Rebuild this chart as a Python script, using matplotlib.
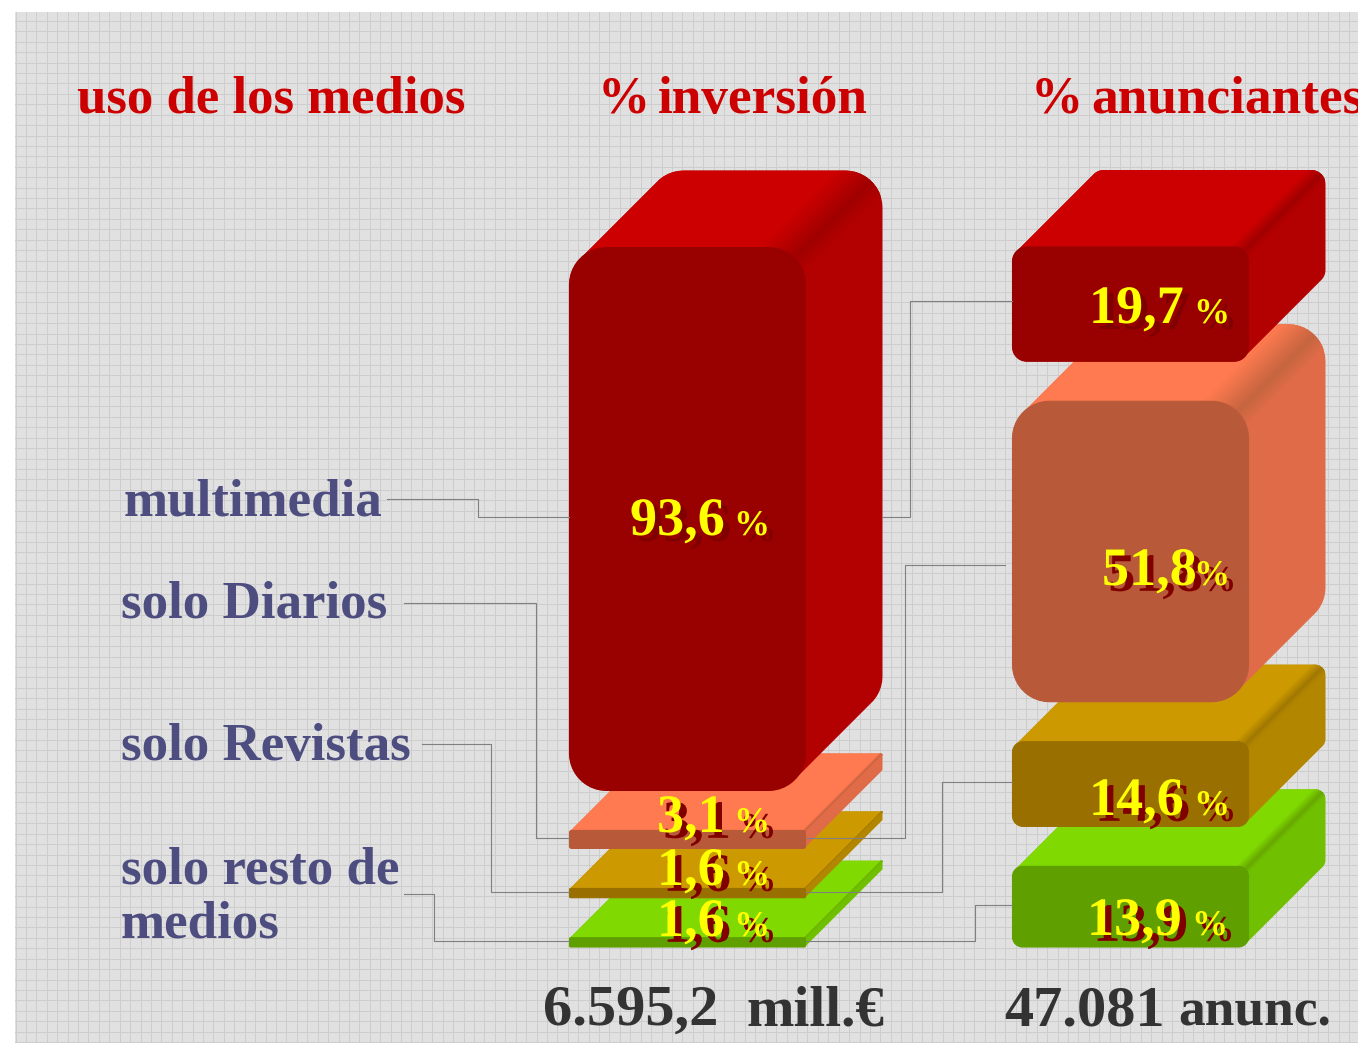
import matplotlib
matplotlib.use("Agg")
import matplotlib.pyplot as plt
import matplotlib.patheffects as pe
from matplotlib.colors import to_rgb
from matplotlib.patches import Polygon
import numpy as np

# data
categories = ["multimedia", "solo Diarios", "solo Revistas", "solo resto de\nmedios"]
inversion = [93.6, 3.1, 1.6, 1.6]
anunciantes = [19.7, 51.8, 14.6, 13.9]
headers = ["uso de los medios", "%", "inversión", "%", "anunciantes"]
total_inversion = "6.595,2"
total_anunciantes = "47.081"

# top, side, front colours of each category
top_colors = ["#cc0000", "#ff7a50", "#cc9900", "#80d900"]
side_colors = ["#b30000", "#e06b48", "#b38600", "#70bf00"]
front_colors = ["#990000", "#b85a3a", "#997000", "#5f9f00"]
ridge_colors = ["#a00000", "#c4653f", "#a07800", "#66a800"]

W, H = 1358, 1043
plt.rcParams['font.family'] = ['Liberation Serif', 'DejaVu Serif']
plt.rcParams['font.weight'] = 'bold'

fig = plt.figure(figsize=(W / 100, H / 100), dpi=100, facecolor="white")
ax = fig.add_axes([0, 0, 1, 1])
ax.axis("off")

# background panel with fine dither and grid
yy, xx = np.mgrid[12:H, 15:W]
dither = 222 + 5 * ((xx + yy) % 2)
ax.imshow(dither, cmap="gray", vmin=0, vmax=255, extent=(15, W, H, 12),
          interpolation="nearest", aspect="auto", zorder=0)
ax.set_xlim(0, W)
ax.set_ylim(H, 0)
for x in np.arange(15.5, W, 10.42):
    ax.plot([x, x], [12, H], color="#cdcdcd", lw=0.72, zorder=1)
for y in np.arange(10.5, H, 10.42):
    if y > 12:
        ax.plot([15, W], [y, y], color="#cdcdcd", lw=0.72, zorder=1)

PX_PER_PCT = 5.8
GAP = 40
BASE_Y = 947
DEPTH = 77
BAR_W = 236


def rounded_pts(x0, y0, x1, y1, r):
    pts = []
    for cx, cy, start in [(x1 - r, y0 + r, -90), (x1 - r, y1 - r, 0),
                          (x0 + r, y1 - r, 90), (x0 + r, y0 + r, 180)]:
        a = np.radians(np.linspace(start, start + 90, 12))
        pts += list(zip(cx + r * np.cos(a), cy + r * np.sin(a)))
    return pts


def hull(points):
    pts = sorted(set(points))

    def half(seq):
        out = []
        for p in seq:
            while len(out) > 1 and ((out[-1][0] - out[-2][0]) * (p[1] - out[-2][1])
                                    - (out[-1][1] - out[-2][1]) * (p[0] - out[-2][0])) <= 0:
                out.pop()
            out.append(p)
        return out[:-1]
    return half(pts) + half(pts[::-1])


def mix(a, b, t):
    a, b = np.array(to_rgb(a)), np.array(to_rgb(b))
    return tuple(a + (b - a) * t)


def box(x0, y0, h, i):
    x1 = x0 + BAR_W
    y1 = y0 + h
    r = min(h / 8, 37)
    d = DEPTH
    front = rounded_pts(x0, y0, x1, y1, r)
    back = [(px + d, py - d) for px, py in front]
    shape = Polygon(hull(front + back), closed=True, fc=side_colors[i], ec="none", zorder=3)
    ax.add_patch(shape)

    # ridge runs from the middle of the front corner arc to the back one
    mx, my = x1 - 0.29 * r, y0 + 0.29 * r
    w_top, w_side = 0.85 * r, 0.45 * r
    sq = 0.7071

    def strip(s0, s1, color):
        a0 = (mx + s0 * sq - 0.5 * r, my + s0 * sq + 0.5 * r)
        a1 = (mx + s1 * sq - 0.5 * r, my + s1 * sq + 0.5 * r)
        k = 1.3 * d + r
        p = Polygon([a0, a1, (a1[0] + k, a1[1] - k), (a0[0] + k, a0[1] - k)], closed=True,
                    fc=color, ec=color, lw=0.3, zorder=3)
        ax.add_patch(p)
        p.set_clip_path(shape)

    # top face, clipped to the silhouette
    ax_, ay_ = mx - w_top * sq - 0.5 * r, my - w_top * sq + 0.5 * r
    k = 1.3 * d + r
    t = Polygon([(ax_, ay_), (ax_ + k, ay_ - k), (x0 - 100, ay_ - k), (x0 - 100, ay_)],
                closed=True, fc=top_colors[i], ec="none", zorder=3)
    ax.add_patch(t)
    t.set_clip_path(shape)

    n = 10
    for j in range(n):
        strip(-w_top * (1 - j / n), -w_top * (1 - (j + 1) / n),
              mix(top_colors[i], ridge_colors[i], (j + 0.5) / n))
    for j in range(n):
        strip(w_side * j / n, w_side * (j + 1) / n,
              mix(ridge_colors[i], side_colors[i], (j + 0.5) / n))

    ax.add_patch(Polygon(front, closed=True, fc=front_colors[i], ec=front_colors[i],
                         lw=0.8, zorder=3))


def stack(x0, values):
    bottom = BASE_Y
    for i in range(len(values) - 1, -1, -1):
        h = values[i] * PX_PER_PCT
        box(x0, bottom - h, h, i)
        bottom = bottom - h - GAP


stack(569.5, inversion)
stack(1012.5, anunciantes)

# leader lines
leaders = [
    [(387, 499), (478, 499), (478, 517), (569, 517)],
    [(882, 517), (910, 517), (910, 301), (1012, 301)],
    [(404, 603), (536, 603), (536, 838), (569, 838)],
    [(806, 838), (905, 838), (905, 565), (1005, 565)],
    [(422, 744), (491, 744), (491, 892), (569, 892)],
    [(806, 892), (942, 892), (942, 782), (1012, 782)],
    [(404, 894), (434, 894), (434, 941), (569, 941)],
    [(806, 941), (975, 941), (975, 905), (1012, 905)],
]
for pts in leaders:
    xs, ys = zip(*pts)
    ax.plot(xs, ys, color="#808080", lw=0.8, zorder=4)

# headers
RED = "#cc0000"
for s, x, fs in zip(headers, [77, 598, 658, 1031, 1091], [38, 37.5, 38.4, 37.5, 38.4]):
    ax.text(x, 112.5, s, color=RED, fontsize=fs, va="baseline", ha="left", zorder=6, clip_on=True)

# category labels
BLUE = "#4d4d80"
label_pos = [(124, 516), (121, 618), (121, 760)]
for s, (x, y) in zip(categories[:3], label_pos):
    ax.text(x, y, s, color=BLUE, fontsize=38.2, va="baseline", ha="left", zorder=6)
line1, line2 = categories[3].split("\n")
ax.text(121, 883, line1, color=BLUE, fontsize=38.2, va="baseline", zorder=6)
ax.text(121, 937, line2, color=BLUE, fontsize=38.2, va="baseline", zorder=6)


def value_label(v, x, y, pct_x):
    # dark red drop shadow under the yellow text
    shadow = [pe.withSimplePatchShadow(offset=(4.5, -4.2), shadow_rgbFace="#800000", alpha=1)]
    s = f"{v:.1f}".replace(".", ",")
    ax.text(x, y, s, color="#ffff00", fontsize=39, va="baseline", zorder=6, path_effects=shadow)
    ax.text(pct_x, y, "%", color="#ffff00", fontsize=26, va="baseline", zorder=6, path_effects=shadow)


inv_pos = [(630, 535, 734), (657, 832, 734), (657, 885, 734), (657, 936, 734)]
anu_pos = [(1089, 323, 1194), (1102, 585, 1194), (1089, 815, 1194), (1087, 935, 1192)]
for v, (x, y, px) in zip(inversion, inv_pos):
    value_label(v, x, y, px)
for v, (x, y, px) in zip(anunciantes, anu_pos):
    value_label(v, x, y, px)

# totals
DARK = "#333333"
ax.text(543, 1025, total_inversion, color=DARK, fontsize=42, va="baseline", zorder=6)
ax.text(747, 1025, "mill.€", color=DARK, fontsize=41, va="baseline", zorder=6)
ax.text(1004, 1025, total_anunciantes, color=DARK, fontsize=42, va="baseline", zorder=6)
ax.text(1178, 1025, "anunc.", color=DARK, fontsize=38.5, va="baseline", zorder=6)

fig.savefig("out.png", dpi=100)
